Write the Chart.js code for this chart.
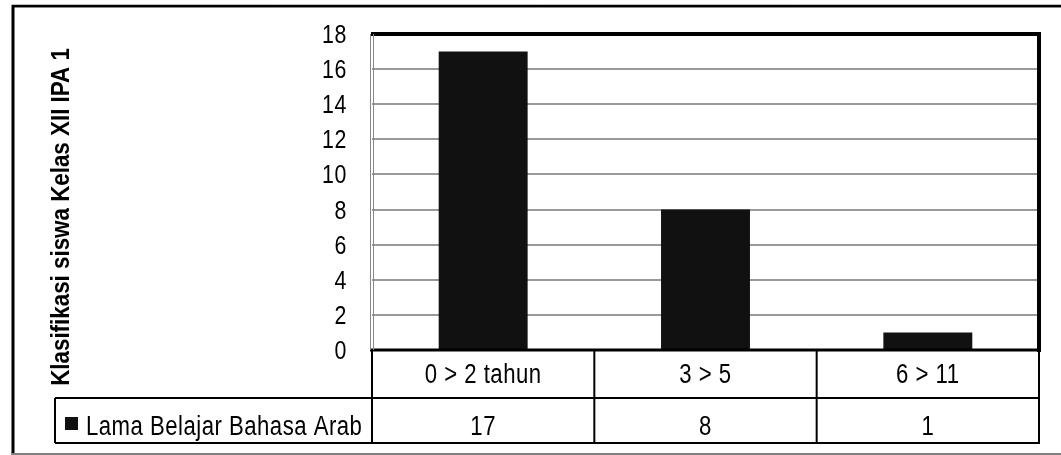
<!DOCTYPE html>
<html>
<head>
<meta charset="utf-8">
<script src="https://cdn.jsdelivr.net/npm/chart.js@4/dist/chart.umd.min.js"></script>
<style>
  html, body { margin: 0; padding: 0; background: #fff; }
  #wrap { position: relative; width: 1061px; height: 455px; }
</style>
</head>
<body>
<div id="wrap"><canvas id="c" width="1061" height="455"></canvas></div>
<script>
const categories = ['0 > 2 tahun', '3 > 5', '6 > 11'];
const seriesName = 'Lama Belajar Bahasa Arab';
const values = [17, 8, 1];
const yAxisTitle = 'Klasifikasi siswa Kelas XII IPA 1';
const yMin = 0, yMax = 18, yStep = 2;

const FONT = "'Liberation Sans', Arial, sans-serif";
const SQX = 0.82; // horizontal compression to mimic a narrow face

function narrowText(ctx, text, x, y, align, spacing) {
  ctx.save();
  ctx.translate(x, y);
  ctx.scale(SQX, 1);
  ctx.letterSpacing = (spacing || 0) + 'px';
  ctx.textAlign = align;
  ctx.fillText(text, 0, 0);
  ctx.restore();
}

const framePlugin = {
  id: 'frame',
  afterDraw(chart) {
    const ctx = chart.ctx;
    const a = chart.chartArea;
    const xs = chart.scales.x;
    const ys = chart.scales.y;
    ctx.save();
    // outer frame
    ctx.strokeStyle = '#000';
    ctx.lineWidth = 2.5;
    ctx.beginPath(); ctx.moveTo(12, 6); ctx.lineTo(1061, 6); ctx.stroke();
    ctx.strokeStyle = '#888';
    ctx.lineWidth = 1;
    ctx.beginPath(); ctx.moveTo(14, 7.5); ctx.lineTo(1061, 7.5); ctx.stroke();
    ctx.strokeStyle = '#000';
    ctx.lineWidth = 3;
    ctx.beginPath(); ctx.moveTo(13, 5); ctx.lineTo(13, 455); ctx.stroke();
    ctx.strokeStyle = '#808080';
    ctx.lineWidth = 2;
    ctx.beginPath(); ctx.moveTo(12, 454); ctx.lineTo(1061, 454); ctx.stroke();

    // plot border
    ctx.strokeStyle = '#000';
    ctx.lineWidth = 4;
    ctx.beginPath(); ctx.moveTo(a.left - 1, a.top); ctx.lineTo(a.right + 2, a.top); ctx.stroke();
    ctx.beginPath(); ctx.moveTo(a.right, a.top); ctx.lineTo(a.right, a.bottom + 2); ctx.stroke();
    ctx.lineWidth = 3;
    ctx.beginPath(); ctx.moveTo(a.left - 2, a.bottom); ctx.lineTo(a.right + 2, a.bottom); ctx.stroke();
    ctx.strokeStyle = '#888';
    ctx.lineWidth = 1;
    ctx.beginPath(); ctx.moveTo(a.left - 1.5, a.top); ctx.lineTo(a.left - 1.5, a.bottom); ctx.stroke();
    ctx.beginPath(); ctx.moveTo(a.left + 1.5, a.top); ctx.lineTo(a.left + 1.5, a.bottom); ctx.stroke();

    // y tick labels from the scale's ticks
    ctx.fillStyle = '#000';
    ctx.font = '26px ' + FONT;
    ctx.textBaseline = 'alphabetic';
    ys.ticks.forEach(t => {
      const y = ys.getPixelForValue(t.value);
      narrowText(ctx, String(t.value), a.left - 25, y + 9, 'right', 0.8);
    });

    // data table
    const row1Top = a.bottom, row1Bot = a.bottom + 48, row2Bot = a.bottom + 93;
    const legLeft = 55;
    ctx.strokeStyle = '#000';
    ctx.lineWidth = 2;
    ctx.beginPath();
    ctx.moveTo(legLeft, row1Bot); ctx.lineTo(a.right + 1, row1Bot);
    ctx.moveTo(legLeft, row2Bot); ctx.lineTo(a.right + 1, row2Bot);
    ctx.moveTo(legLeft, row1Bot); ctx.lineTo(legLeft, row2Bot);
    ctx.stroke();
    const n = categories.length;
    const bounds = [];
    for (let i = 0; i < n; i++) {
      const c = xs.getPixelForValue(i);
      const prev = i === 0 ? a.left : (c + xs.getPixelForValue(i - 1)) / 2;
      bounds.push(prev);
    }
    bounds.push(a.right);
    ctx.beginPath();
    bounds.forEach(x => { ctx.moveTo(x, row1Top); ctx.lineTo(x, row2Bot); });
    ctx.stroke();

    ctx.fillStyle = '#000';
    ctx.font = '27px ' + FONT;
    for (let i = 0; i < n; i++) {
      const cx = xs.getPixelForValue(i);
      narrowText(ctx, categories[i], cx, row1Top + 33, 'center', 0.6);
      narrowText(ctx, String(values[i]), cx, row1Bot + 37, 'center', 0.6);
    }
    // legend key + name
    ctx.fillStyle = '#111';
    ctx.fillRect(65, 417, 13, 13);
    ctx.fillStyle = '#000';
    narrowText(ctx, seriesName, 86, row1Bot + 37, 'left', 0.6);

    // y axis title (narrow bold, compressed along text direction)
    ctx.save();
    ctx.translate(62, 217);
    ctx.rotate(-Math.PI / 2);
    ctx.scale(0.86, 1);
    ctx.font = 'bold 26px ' + FONT;
    ctx.textAlign = 'center';
    ctx.textBaseline = 'middle';
    ctx.fillText(yAxisTitle, 0, 0);
    ctx.restore();

    ctx.restore();
  }
};

new Chart(document.getElementById('c'), {
  type: 'bar',
  data: {
    labels: categories,
    datasets: [{
      label: seriesName,
      data: values,
      backgroundColor: '#111111',
      borderWidth: 0,
      categoryPercentage: 1,
      barPercentage: 0.4
    }]
  },
  options: {
    responsive: false,
    animation: false,
    devicePixelRatio: 1,
    layout: { padding: { top: 34, right: 22, bottom: 105, left: 0 } },
    plugins: { legend: { display: false }, tooltip: { enabled: false } },
    scales: {
      x: {
        ticks: { display: false },
        grid: { display: false },
        border: { display: false },
        afterFit(scale) { scale.height = 0; scale.paddingLeft = 0; scale.paddingRight = 0; }
      },
      y: {
        min: yMin, max: yMax,
        ticks: { stepSize: yStep, display: false },
        grid: { color: '#999', lineWidth: 2, drawTicks: false },
        border: { display: false },
        afterFit(scale) { scale.width = 372; scale.paddingTop = 0; scale.paddingBottom = 0; }
      }
    }
  },
  plugins: [framePlugin]
});
</script>
</body>
</html>
